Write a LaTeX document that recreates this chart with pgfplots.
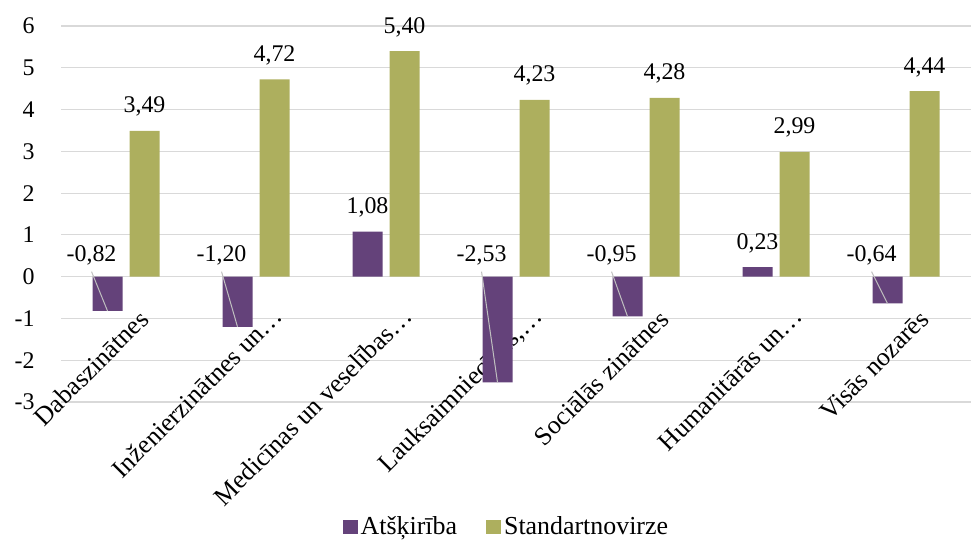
\documentclass[border=0pt]{standalone}
\usepackage{fontspec}
\setmainfont{Liberation Serif}
\usepackage{pgfplots}
\pgfplotsset{compat=1.18}

\definecolor{atsk}{RGB}{100,66,122}
\definecolor{stdn}{RGB}{173,175,94}
\definecolor{gridgray}{RGB}{217,217,217}
\definecolor{leader}{RGB}{191,191,191}

\newcommand{\numfont}{\fontsize{12}{14}\selectfont}
\newcommand{\txtfont}{\fontsize{13}{15}\selectfont}

% Atšķirība (purple) and Standartnovirze (olive) per field
\pgfplotstableread{
x  atsk   stdn
0  -0.82  3.49
1  -1.20  4.72
2   1.08  5.40
3  -2.53  4.23
4  -0.95  4.28
5   0.23  2.99
6  -0.64  4.44
}\datatable

% value label above the zero line, joined to the end of a negative bar
\newcommand{\neglabel}[3]{%
  \draw[leader, line width=0.5bp] (axis cs:#1-0.265,0.12) -- (axis cs:#1-0.1423,#2);
  \node[anchor=base, inner sep=0pt, font=\numfont] at (axis cs:#1-0.265,0.36) {#3};
}
% value label above a positive purple bar
\newcommand{\poslabel}[3]{%
  \node[anchor=base, inner sep=0pt, yshift=9bp, font=\numfont] at (axis cs:#1-0.1423,#2) {#3};
}

\begin{document}
\begin{tikzpicture}
\begin{axis}[
  scale only axis, width=455bp, height=188bp,
  xmin=-0.5, xmax=6.5, ymin=-3, ymax=6,
  clip=false,
  axis x line=middle, axis y line=left,
  axis line style={draw=none},
  hide obscured x ticks=false, hide obscured y ticks=false,
  major tick length=0pt,
  ytick={-3,-2,...,6},
  xtick={0,...,6},
  xticklabels={Dabaszinātnes\hspace*{2.5bp}, Inženierzinātnes un…, Medicīnas un veselības…, {Lauksaimniecības,…}, Sociālās zinātnes\hspace*{2.5bp}, Humanitārās un…, Visās nozarēs\hspace*{2.5bp}},
  xticklabel style={font=\txtfont, inner sep=0pt, shift={(14bp,-20.5bp)}, rotate=45, anchor=base east},
  yticklabel style={font=\numfont, inner sep=0pt, anchor=east, xshift=-13bp},
  ymajorgrids, grid style={gridgray, line width=0.6bp},
  /pgf/number format/assume math mode=true,
  ybar=3.5bp, bar width=15bp,
  sq/.style={legend image code/.code={\fill[##1] (0bp,-3.4bp) rectangle (7.5bp,3.4bp);}},
  legend style={at={(0.49,-0.332)}, anchor=center, draw=none, fill=none,
    legend columns=2, font=\txtfont, inner sep=0pt,
    /tikz/every even column/.append style={column sep=13bp},
    nodes={inner sep=1.5bp}},
  nodes near coords style={font=\numfont, inner sep=0pt, anchor=base, yshift=9bp},
]
\addplot[fill=atsk, draw=none, sq] table[x=x, y=atsk] {\datatable};
\addlegendentry{Atšķirība}
\addplot[fill=stdn, draw=none, sq,
  nodes near coords={\pgfmathprintnumber[fixed, fixed zerofill, precision=2, use comma]{\pgfplotspointmeta}}]
  table[x=x, y=stdn] {\datatable};
\addlegendentry{Standartnovirze}

\poslabel{2}{1.08}{1,08}
\poslabel{5}{0.23}{0,23}
\neglabel{0}{-0.82}{-0,82}
\neglabel{1}{-1.20}{-1,20}
\neglabel{3}{-2.53}{-2,53}
\neglabel{4}{-0.95}{-0,95}
\neglabel{6}{-0.64}{-0,64}

\coordinate (o) at (rel axis cs:0,0);
\end{axis}
\pgfresetboundingbox
\path ([shift={(-30.5bp,-69bp)}]o) rectangle ([shift={(456bp,201bp)}]o);
\end{tikzpicture}
\end{document}
